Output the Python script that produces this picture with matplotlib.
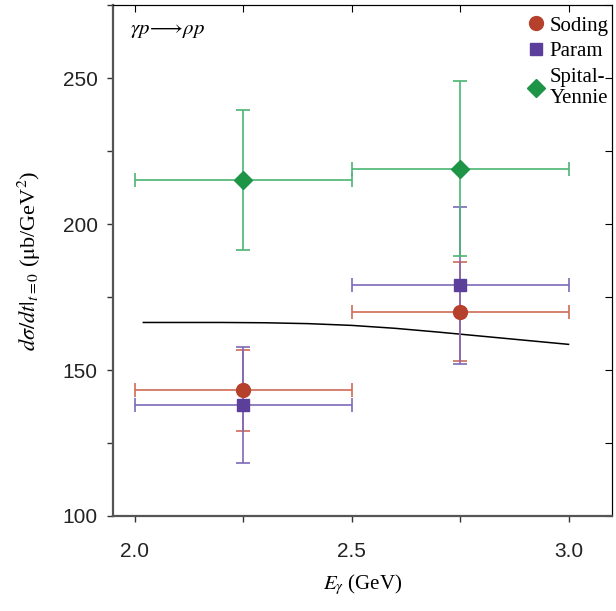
import numpy as np
import matplotlib
matplotlib.use("Agg")
import matplotlib.pyplot as plt
from matplotlib.ticker import MultipleLocator

# Data
energy = [2.25, 2.75]
energy_halfwidth = [0.25, 0.25]

soding = [143, 170]
soding_err = [14, 17]

param = [138, 179]
param_err = [20, 27]

spital = [215, 219]
spital_err = [24, 30]

curve_x = [2.02, 2.1, 2.2, 2.3, 2.4, 2.5, 2.6, 2.7, 2.75, 2.8, 2.9, 3.0]
curve_y = [166.3, 166.3, 166.3, 166.2, 165.9, 165.3, 164.3, 163.0, 162.3, 161.6, 160.2, 158.8]

plt.rcParams['mathtext.fontset'] = 'stix'

fig = plt.figure(figsize=(6.16, 6.11), dpi=100)
ax = fig.add_axes([0.1834, 0.1555, 0.81, 0.836])

series = [
    ("Soding", soding, soding_err, 'o', '#b5402c', '#d16a55', 10),
    ("Param", param, param_err, 's', '#5b3f9a', '#7d68b8', 8.5),
    ("Spital-\nYennie", spital, spital_err, 'D', '#1e9447', '#4cb573', 9),
]
handles = []
for name, vals, err, mk, col, ecol, ms in series:
    ax.errorbar(energy, vals, xerr=energy_halfwidth, yerr=err, fmt='none',
                ecolor=ecol, elinewidth=1.2, capsize=5, capthick=1.2, zorder=2)
    h, = ax.plot(energy, vals, linestyle='none', marker=mk, color=col,
                 markersize=ms, zorder=3, label=name)
    handles.append(h)

ax.plot(curve_x, curve_y, color='black', lw=1.1, zorder=1)

ax.set_xlim(1.95, 3.1)
ax.set_ylim(100, 275)
ax.xaxis.set_minor_locator(MultipleLocator(0.25))
ax.yaxis.set_major_locator(MultipleLocator(50))
ax.yaxis.set_minor_locator(MultipleLocator(25))
ax.set_xticks([2.0, 2.5, 3.0])
ax.set_xticklabels(['2.0', '2.5', '3.0'])

ax.tick_params(which='both', direction='out', length=4, width=1, color='#333333',
               labelsize=15, labelcolor='#222222', labelfontfamily='Liberation Sans')
ax.tick_params(axis='x', which='both', pad=15)
ax.tick_params(axis='y', which='both', pad=7)

# inward ticks on top and right
sec_x = ax.secondary_xaxis('top')
sec_x.set_xticks([2.0, 2.25, 2.5, 2.75, 3.0])
sec_x.tick_params(direction='in', length=5, labeltop=False)
sec_y = ax.secondary_yaxis('right')
sec_y.set_yticks([100, 125, 150, 175, 200, 225, 250, 275])
sec_y.tick_params(direction='in', length=5, labelright=False)
for s in ['left', 'bottom']:
    ax.spines[s].set_color('#555555')
    ax.spines[s].set_linewidth(1.6)

ax.set_xlabel(r'$E_{\gamma}$ (GeV)', fontsize=15, family='Liberation Serif', labelpad=8)
ax.set_ylabel(r'$d\sigma/dt|_{t=0}$ ($\mathrm{\mu}$b/GeV$^2$)', fontsize=16,
              family='Liberation Serif', labelpad=14)

ax.text(1.99, 266.5, r'$\gamma p\!\longrightarrow\!\rho p$', fontsize=15, va='center')

ax.legend(handles=handles, loc='upper right', frameon=False,
          bbox_to_anchor=(1.0, 0.985),
          prop={'family': 'Liberation Serif', 'size': 15},
          handletextpad=0.15, borderaxespad=0.0, labelspacing=0.3,
          handlelength=1.0, borderpad=0.15)

fig.savefig("out.png", dpi=100)
